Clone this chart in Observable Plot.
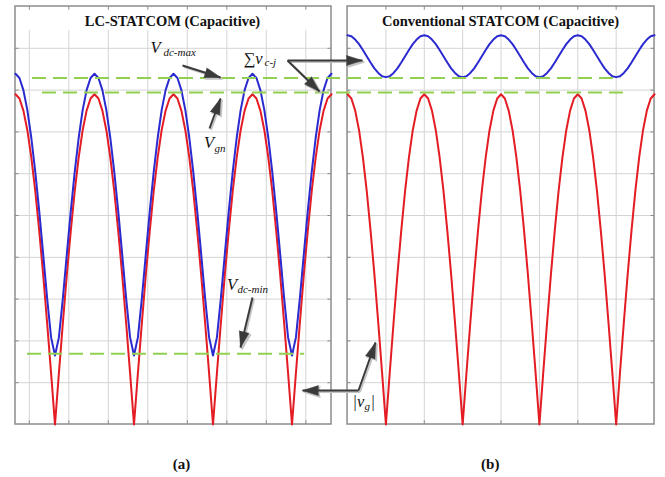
<!DOCTYPE html>
<html><head><meta charset="utf-8">
<script src="https://cdn.jsdelivr.net/npm/d3@7"></script>
<script src="https://cdn.jsdelivr.net/npm/@observablehq/plot@0.6"></script>
<style>body{margin:0;background:#fff}#chart{width:665px;height:477px}</style>
</head><body><div id="chart"></div>
<script>
// ---- sample times (ms)
const time = [0,0.5,1,1.5,2,2.5,3,3.5,4,4.5,5,5.5,6,6.5,7,7.5,8,8.5,9,9.5,
  10,10.5,11,11.5,12,12.5,13,13.5,14,14.5,15,15.5,16,16.5,17,17.5,18,18.5,19,19.5,
  20,20.5,21,21.5,22,22.5,23,23.5,24,24.5,25,25.5,26,26.5,27,27.5,28,28.5,29,29.5,
  30,30.5,31,31.5,32,32.5,33,33.5,34,34.5,35,35.5,36,36.5,37,37.5,38,38.5,39,39.5,40];
// |v_g| (red), same in both panels
const vgAbs = [7.90,7.80,7.51,7.04,6.39,5.59,4.64,3.59,2.44,1.24,0,1.24,2.44,3.59,4.64,5.59,6.39,7.04,7.51,7.80,
  7.90,7.80,7.51,7.04,6.39,5.59,4.64,3.59,2.44,1.24,0,1.24,2.44,3.59,4.64,5.59,6.39,7.04,7.51,7.80,
  7.90,7.80,7.51,7.04,6.39,5.59,4.64,3.59,2.44,1.24,0,1.24,2.44,3.59,4.64,5.59,6.39,7.04,7.51,7.80,
  7.90,7.80,7.51,7.04,6.39,5.59,4.64,3.59,2.44,1.24,0,1.24,2.44,3.59,4.64,5.59,6.39,7.04,7.51,7.80,7.90];
// sum v_c-j, LC-STATCOM (blue, panel a)
const sumVcLC = [8.39,8.29,8.00,7.52,6.86,6.05,5.11,4.08,3.03,2.09,1.65,2.09,3.03,4.08,5.11,6.05,6.86,7.52,8.00,8.29,
  8.39,8.29,8.00,7.52,6.86,6.05,5.11,4.08,3.03,2.09,1.65,2.09,3.03,4.08,5.11,6.05,6.86,7.52,8.00,8.29,
  8.39,8.29,8.00,7.52,6.86,6.05,5.11,4.08,3.03,2.09,1.65,2.09,3.03,4.08,5.11,6.05,6.86,7.52,8.00,8.29,
  8.39,8.29,8.00,7.52,6.86,6.05,5.11,4.08,3.03,2.09,1.65,2.09,3.03,4.08,5.11,6.05,6.86,7.52,8.00,8.29,8.39];
// sum v_c-j, conventional STATCOM (blue, panel b)
const sumVcConv = [9.31,9.29,9.21,9.10,8.96,8.81,8.66,8.52,8.41,8.33,8.31,8.33,8.41,8.52,8.66,8.81,8.96,9.10,9.21,9.29,
  9.31,9.29,9.21,9.10,8.96,8.81,8.66,8.52,8.41,8.33,8.31,8.33,8.41,8.52,8.66,8.81,8.96,9.10,9.21,9.29,
  9.31,9.29,9.21,9.10,8.96,8.81,8.66,8.52,8.41,8.33,8.31,8.33,8.41,8.52,8.66,8.81,8.96,9.10,9.21,9.29,
  9.31,9.29,9.21,9.10,8.96,8.81,8.66,8.52,8.41,8.33,8.31,8.33,8.41,8.52,8.66,8.81,8.96,9.10,9.21,9.29,9.31];

const panelTitles = ["LC-STATCOM (Capacitive)", "Conventional STATCOM (Capacitive)"];
const panelCaptions = ["(a)", "(b)"];
// each panel placed on one shared x axis: origin and time compression
const panelOrigin = [0, 42.03];
const panelScale = [1, 0.9715];
const panelSpan = 40;              // ms shown per panel
const titleCenter = [19.87, 61.39];
const captionCenter = [21.0, 60.1];
const gridTimesA = [1.75, 6.75, 11.75, 16.75, 21.75, 26.75, 31.75, 36.75];
const gridTimesB = [5, 10, 15, 20, 25, 30, 35];
const gridLevels = [1, 2, 3, 4, 5, 6, 7, 8, 9];

// green dashed reference levels: Vdc-max, Vgn, Vdc-min
const refLevel = [8.29, 7.94, 1.69];
const refFrom = [2.15, 3.42, 1.52];
const refTo = [76.62, 77.49, 36.6];

// annotation arrows (tail -> tip)
const arrowTailX = [21.14, 34.43, 34.43, 24.56, 30.0, 43.42, 43.42];
const arrowTailY = [8.589, 8.708, 8.708, 7.081, 3.038, 0.813, 0.813];
const arrowTipX = [25.95, 43.92, 38.48, 25.95, 28.48, 36.33, 45.57];
const arrowTipY = [8.301, 8.708, 7.967, 7.799, 1.842, 0.813, 1.962];

// annotation labels (start x, baseline y)
const labelText = ["V", "dc-max", "\u2211v", "c-j", "V", "gn", "V", "dc-min", "|v", "g", "|"];
const labelX = [17.09, 18.73, 28.86, 31.52, 23.86, 25.19, 26.77, 28.10, 42.66, 44.18, 44.94];
const labelY = [8.876, 8.816, 8.624, 8.565, 6.603, 6.531, 3.206, 3.134, 0.407, 0.335, 0.407];
const labelSize = [16.5, 11, 16.5, 11, 16.5, 11, 16.5, 11, 16.5, 11, 16.5];

// ---- build tables
const place = (p, t) => panelOrigin[p] + t * panelScale[p];
const panels = panelOrigin.map((o, i) => ({x1: o, x2: place(i, panelSpan), title: panelTitles[i], tx: titleCenter[i], caption: panelCaptions[i], cx: captionCenter[i]}));
const mk = (vals, p) => time.map((t, i) => ({x: place(p, t), y: vals[i]}));
const redA = mk(vgAbs, 0), blueA = mk(sumVcLC, 0);
const redB = mk(vgAbs, 1), blueB = mk(sumVcConv, 1);
const refs = refLevel.map((y, i) => ({y, x1: refFrom[i], x2: refTo[i]}));
const labels = labelText.map((t, i) => ({text: t, x: labelX[i], y: labelY[i], size: labelSize[i]}));
const vGrid = [...gridTimesA.map(t => place(0, t)), ...gridTimesB.map(t => place(1, t))];

const X = {domain: [0, 40], range: [15, 331]};
const Y = {domain: [0, 10], range: [424, 6]};
const xs = d3.scaleLinear(X.domain, X.range), ys = d3.scaleLinear(Y.domain, Y.range);
const arrows = arrowTipX.map((tx, i) => {
  const dx = xs(tx) - xs(arrowTailX[i]), dy = ys(arrowTipY[i]) - ys(arrowTailY[i]);
  return {x1: arrowTailX[i], y1: arrowTailY[i], x2: tx, y2: arrowTipY[i], rot: Math.atan2(dx, -dy) * 180 / Math.PI};
});

const grid = "#d4d4d4", frame = "#8c8c8c", ink = "#3a3a3a", shadow = "#c4c4c4";
const serif = "'Liberation Serif', 'Times New Roman', serif";

const chart = Plot.plot({
  width: 665, height: 477,
  x: {...X, axis: null}, y: {...Y, axis: null},
  style: {background: "#fff", overflow: "visible"},
  marks: [
    // grid
    Plot.ruleX(vGrid, {x: d => d, y1: 0, y2: 10, stroke: grid, strokeWidth: 1}),
    Plot.ruleY(panels.flatMap(p => gridLevels.map(l => ({y: l, x1: p.x1, x2: p.x2}))), {y: "y", x1: "x1", x2: "x2", stroke: grid, strokeWidth: 1}),
    // title boxes
    Plot.rect(panels, {x1: "x1", x2: "x2", y1: 9.43, y2: 10, fill: "#fff"}),
    // frames
    Plot.rect(panels, {x1: "x1", x2: "x2", y1: 0, y2: 10, fill: "none", stroke: frame, strokeWidth: 1.5}),
    // inward ticks
    Plot.ruleX(vGrid, {x: d => d, y1: 0, y2: 0.09, stroke: frame, strokeWidth: 1}),
    Plot.ruleX(vGrid, {x: d => d, y1: 9.91, y2: 10, stroke: frame, strokeWidth: 1}),
    Plot.ruleY(panels.flatMap(p => gridLevels.flatMap(l => [{y: l, x1: p.x1, x2: p.x1 + 0.45}, {y: l, x1: p.x2 - 0.45, x2: p.x2}])), {y: "y", x1: "x1", x2: "x2", stroke: frame, strokeWidth: 1}),
    // waveforms
    Plot.line(redA, {x: "x", y: "y", stroke: "#e41c23", strokeWidth: 2}),
    Plot.line(blueA, {x: "x", y: "y", stroke: "#2a2ad0", strokeWidth: 2}),
    Plot.line(redB, {x: "x", y: "y", stroke: "#e41c23", strokeWidth: 2}),
    Plot.line(blueB, {x: "x", y: "y", stroke: "#2a2ad0", strokeWidth: 2}),
    // reference dashed lines
    Plot.ruleY(refs, {y: "y", x1: "x1", x2: "x2", stroke: "#92d050", strokeWidth: 2, strokeDasharray: "14,7"}),
    // arrows (shadow + body)
    Plot.link(arrows, {x1: "x1", y1: "y1", x2: "x2", y2: "y2", stroke: shadow, strokeWidth: 2, dx: 1.5, dy: 1.5}),
    Plot.vector(arrows, {x: "x2", y: "y2", rotate: "rot", length: 16, r: 5, shape: "spike", anchor: "end", fill: shadow, stroke: shadow, dx: 1.5, dy: 1.5}),
    Plot.link(arrows, {x1: "x1", y1: "y1", x2: "x2", y2: "y2", stroke: ink, strokeWidth: 2}),
    Plot.vector(arrows, {x: "x2", y: "y2", rotate: "rot", length: 16, r: 5, shape: "spike", anchor: "end", fill: ink, stroke: ink, strokeWidth: 0.5}),
    // annotation labels
    Plot.text(labels, {x: "x", y: "y", text: "text", fontSize: "size", textAnchor: "start", lineAnchor: "bottom", fontStyle: "italic", fontFamily: serif, fill: "#111"}),
    // titles and captions
    Plot.text(panels, {x: "tx", y: 9.533, text: "title", textAnchor: "middle", lineAnchor: "bottom", fontSize: 14.5, fontWeight: "bold", fontFamily: serif, fill: "#111"}),
    Plot.text(panels, {x: "cx", y: -1.06, text: "caption", textAnchor: "middle", lineAnchor: "bottom", fontSize: 15, fontWeight: "bold", fontFamily: serif, fill: "#111"})
  ]
});
document.getElementById("chart").appendChild(chart);
</script>
</body></html>
